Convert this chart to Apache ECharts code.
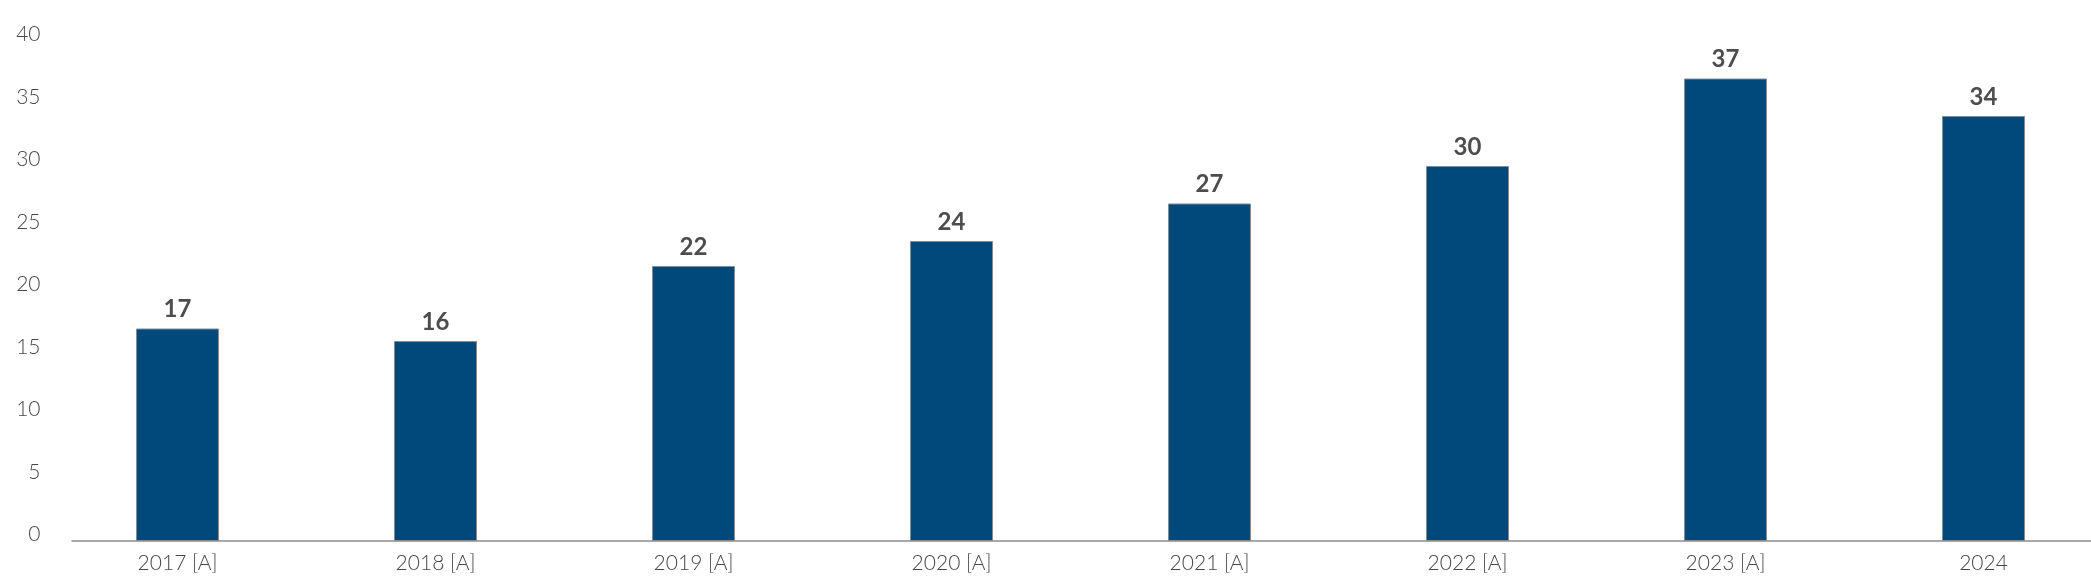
<!DOCTYPE html>
<html>
<head>
<meta charset="utf-8">
<script src="https://cdn.jsdelivr.net/npm/echarts@6/dist/echarts.min.js"></script>
<style>
html,body{margin:0;padding:0;background:#fff;}
#chart{width:2091px;height:583px;}
</style>
</head>
<body>
<div id="chart"></div>
<script>
const categories = ['2017 [A]', '2018 [A]', '2019 [A]', '2020 [A]', '2021 [A]', '2022 [A]', '2023 [A]', '2024'];
const values = [17, 16, 22, 24, 27, 30, 37, 34];
const yMin = 0, yMax = 40, yStep = 5;

const FONT = 'Lato, "Open Sans", sans-serif';
const chart = echarts.init(document.getElementById('chart'), null, {renderer: 'canvas'});
chart.setOption({
  animation: false,
  backgroundColor: '#ffffff',
  grid: [
    {left: 48.5, width: 2064, top: 41, bottom: 42, outerBoundsMode: 'none', containLabel: false},
    {left: 72, right: 0, top: 41, bottom: 42, outerBoundsMode: 'none', containLabel: false}
  ],
  xAxis: [
    {
      type: 'category', gridIndex: 0, data: categories,
      axisLine: {show: false}, axisTick: {show: false},
      axisLabel: {color: '#474747', fontFamily: FONT, fontWeight: 300, fontSize: 21, margin: 12, interval: 0}
    },
    {
      type: 'value', gridIndex: 1, min: 0, max: 1,
      axisLine: {show: true, lineStyle: {color: '#8c8c8c', width: 1.5}},
      axisTick: {show: false}, axisLabel: {show: false}, splitLine: {show: false}
    }
  ],
  yAxis: [
    {
      type: 'value', gridIndex: 0, min: yMin, max: yMax, interval: yStep,
      axisLine: {show: false}, axisTick: {show: false}, splitLine: {show: false},
      axisLabel: {color: '#474747', fontFamily: FONT, fontWeight: 300, fontSize: 21, margin: 8,
                  verticalAlign: 'bottom', lineHeight: 13}
    },
    {
      type: 'value', gridIndex: 1, min: 0, max: 1, show: false
    }
  ],
  series: [{
    type: 'bar', xAxisIndex: 0, yAxisIndex: 0,
    data: values,
    barWidth: 83,
    itemStyle: {color: '#00497A', borderColor: '#8a8a8a', borderWidth: 1},
    label: {
      show: true, position: 'top', distance: 7,
      color: '#4d4d4d', fontFamily: FONT, fontWeight: 'bold', fontSize: 24
    }
  }]
});
</script>
</body>
</html>
